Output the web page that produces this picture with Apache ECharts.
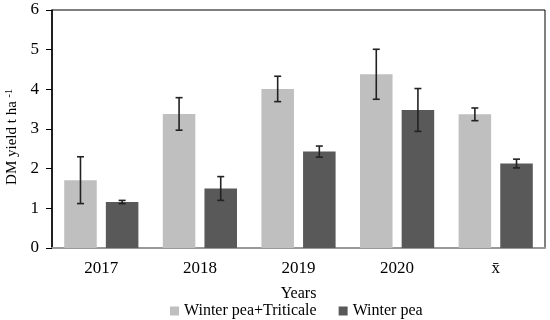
<!DOCTYPE html>
<html><head><meta charset="utf-8">
<script src="https://cdn.jsdelivr.net/npm/echarts@6/dist/echarts.min.js"></script>
<style>html,body{margin:0;padding:0;background:#fff}#c{width:550px;height:320px}</style>
</head><body><div id="c"></div>
<script>
var categories = ['2017', '2018', '2019', '2020', 'x\u0304'];
var seriesNames = ['Winter pea+Triticale', 'Winter pea'];
var mixValues = [1.71, 3.38, 4.01, 4.38, 3.37];
var mixErrors = [0.59, 0.41, 0.32, 0.63, 0.16];
var peaValues = [1.16, 1.50, 2.43, 3.48, 2.13];
var peaErrors = [0.04, 0.30, 0.14, 0.54, 0.11];
var yTicks = [0, 1, 2, 3, 4, 5, 6];

var FONT = '"Liberation Serif","DejaVu Serif",serif';
var BAR_GAP = '28%';
var BAR_WIDTH = '33%';

function errorSeries(values, errors, idx) {
  return {
    type: 'custom',
    name: seriesNames[idx] + ' error',
    z: 10,
    silent: true,
    data: values.map(function (v, i) { return [i, v - errors[i], v + errors[i]]; }),
    renderItem: function (params, api) {
      var cat = api.value(0);
      var lo = api.coord([cat, api.value(1)]);
      var hi = api.coord([cat, api.value(2)]);
      var bw = api.size([1, 0])[0];
      var barW = bw * 0.33;
      var gap = barW * 0.28;
      var offset = (idx === 0 ? -1 : 1) * (barW + gap) / 2;
      var x = lo[0] + offset;
      var cap = 3.5;
      var st = { stroke: '#222', lineWidth: 1.6 };
      return {
        type: 'group',
        children: [
          { type: 'line', shape: { x1: x, y1: lo[1], x2: x, y2: hi[1] }, style: st },
          { type: 'line', shape: { x1: x - cap, y1: lo[1], x2: x + cap, y2: lo[1] }, style: st },
          { type: 'line', shape: { x1: x - cap, y1: hi[1], x2: x + cap, y2: hi[1] }, style: st }
        ]
      };
    }
  };
}

var chart = echarts.init(document.getElementById('c'), null, { renderer: 'canvas' });
chart.setOption({
  animation: false,
  backgroundColor: '#fff',
  textStyle: { fontFamily: FONT },
  grid: { left: 52, right: 5, top: 10, bottom: 72, containLabel: false, outerBoundsMode: 'none', show: true, borderColor: '#000', borderWidth: 1 },
  legend: {
    data: seriesNames,
    bottom: -4,
    left: 165,
    icon: 'rect',
    itemWidth: 9,
    itemHeight: 9,
    itemGap: 22,
    textStyle: { fontFamily: FONT, fontSize: 16, color: '#000' }
  },
  xAxis: {
    type: 'category',
    data: categories,
    name: 'Years',
    nameLocation: 'middle',
    nameGap: 38,
    nameTextStyle: { fontFamily: FONT, fontSize: 16, color: '#000' },
    axisLine: { lineStyle: { color: '#999', width: 2 } },
    axisTick: { show: false },
    axisLabel: { fontFamily: FONT, fontSize: 17, color: '#000', margin: 12 }
  },
  yAxis: {
    type: 'value',
    min: yTicks[0],
    max: yTicks[yTicks.length - 1],
    interval: 1,
    name: 'DM yield t ha {sup|-1}',
    nameLocation: 'middle',
    nameGap: 31,
    nameTextStyle: {
      fontFamily: FONT, fontSize: 15, color: '#000',
      padding: [0, 16, 0, 0],
      rich: { sup: { fontFamily: FONT, fontSize: 10, color: '#000', verticalAlign: 'top', lineHeight: 16 } }
    },
    axisLine: { show: true, lineStyle: { color: '#000', width: 1.5 } },
    axisTick: { show: true, length: 6, lineStyle: { color: '#000' } },
    axisLabel: { fontFamily: FONT, fontSize: 17, color: '#000', margin: 13 },
    splitLine: { show: false }
  },
  series: [
    { type: 'bar', name: seriesNames[0], data: mixValues, barWidth: BAR_WIDTH, barGap: BAR_GAP, itemStyle: { color: '#bfbfbf' } },
    { type: 'bar', name: seriesNames[1], data: peaValues, barWidth: BAR_WIDTH, barGap: BAR_GAP, itemStyle: { color: '#595959' } },
    errorSeries(mixValues, mixErrors, 0),
    errorSeries(peaValues, peaErrors, 1)
  ]
});
</script></body></html>
